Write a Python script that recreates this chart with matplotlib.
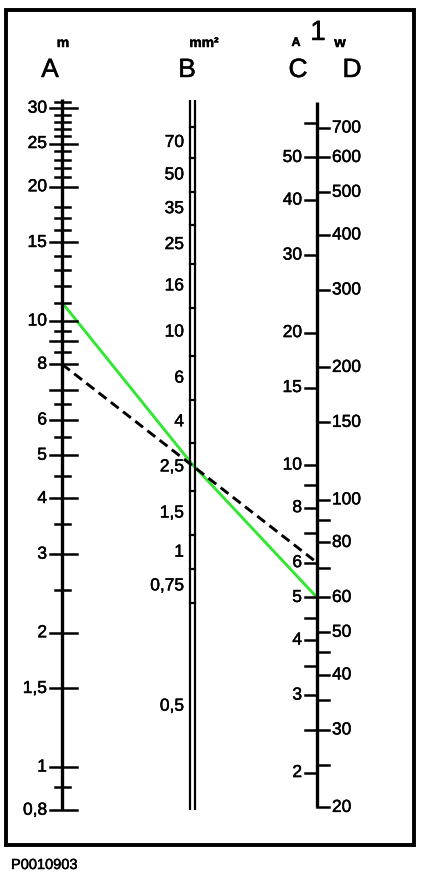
import numpy as np
import matplotlib
matplotlib.use("Agg")
import matplotlib.pyplot as plt
import matplotlib.patheffects as pe
from matplotlib.patches import Rectangle

plt.rcParams['font.family'] = ['Liberation Sans', 'DejaVu Sans']

# ---------------- data ----------------
# Scale A : cable length (m)
A_labeled = [30, 25, 20, 15, 10, 8, 6, 5, 4, 3, 2, 1.5, 1, 0.8]
A_labels = ["30", "25", "20", "15", "10", "8", "6", "5", "4", "3", "2", "1,5", "1", "0,8"]
A_long_unlabeled = [9, 7]
A_minor = [31, 29, 28, 27, 26, 24, 23, 22, 21, 18, 17, 16, 14, 13, 12, 11,
           9.5, 8.5, 6.5, 5.5, 4.5, 3.5, 2.5, 0.9]
A_range = [0.8, 31.5]

# Scale B : cross-section (mm²)
B_sizes = [0.5, 0.75, 1, 1.5, 2.5, 4, 6, 10, 16, 25, 35, 50, 70]
B_labels = ["0,5", "0,75", "1", "1,5", "2,5", "4", "6", "10", "16", "25", "35", "50", "70"]
B_next_size = 95
B_range = [0.073, 107]

# Scale C : current (A)
C_labeled = [50, 40, 30, 20, 15, 10, 8, 6, 5, 4, 3, 2]
C_labels = ["50", "40", "30", "20", "15", "10", "8", "6", "5", "4", "3", "2"]
C_minor = [60, 9, 7, 4.5, 3.5, 2.5]
C_top = 66.8

# Scale D : power (W) at 12 V
VOLTAGE = 12
D_labeled = [700, 600, 500, 400, 300, 200, 150, 100, 80, 60, 50, 40, 30, 20]
D_labels = ["700", "600", "500", "400", "300", "200", "150", "100", "80", "60", "50", "40", "30", "20"]
D_minor = [90, 70, 45, 35, 25]

# Example readings
green_A, green_B, green_C = 11, 2.55, 5
dashed_A, dashed_C = 8, 6

# ---------------- layout ----------------
W, H = 432, 880
fig = plt.figure(figsize=(W / 100, H / 100), dpi=100)
fig.patch.set_facecolor("white")

base = fig.add_axes([0, 0, 1, 1])
base.set_xlim(0, W)
base.set_ylim(H, 0)
base.axis("off")


def scale_axes(y_at_one, px_per_dec):
    ax = fig.add_axes([0, 0, 1, 1])
    ax.set_xlim(0, W)
    ax.set_yscale("log")
    ax.set_ylim(10 ** ((y_at_one - H) / px_per_dec), 10 ** (y_at_one / px_per_dec))
    ax.axis("off")
    ax.patch.set_alpha(0)
    return ax


C_y1, C_ppd = 905, 440
axA = scale_axes(767, 446)
axB = scale_axes(555, 224)
axC = scale_axes(C_y1, C_ppd)
axD = scale_axes(C_y1 + C_ppd * np.log10(VOLTAGE), C_ppd)

K = "black"
FS = 12.5
TLW = 1.8
heavy = [pe.withStroke(linewidth=0.35, foreground="black")]


def txt(ax, x, y, s, **kw):
    t = ax.text(x, y, s, **kw)
    t.set_path_effects(heavy)
    return t


# frame
base.add_patch(Rectangle((5.5, 10), 408, 835, fill=False, lw=2.8, edgecolor=K))
txt(base, 11, 865, "P0010903", fontsize=10.5, ha="left", va="center")

# headers
txt(base, 63, 43, "m", fontsize=10, fontweight="bold", ha="center", va="center")
txt(base, 50, 70, "A", fontsize=19, ha="center", va="center")
txt(base, 204, 43, "mm²", fontsize=10, fontweight="bold", ha="center", va="center")
txt(base, 187, 70, "B", fontsize=19, ha="center", va="center")
txt(base, 296, 43, "A", fontsize=9, fontweight="bold", ha="center", va="center")
txt(base, 318, 33, "1", fontsize=20, ha="center", va="center")
txt(base, 340, 43, "w", fontsize=10.5, fontweight="bold", ha="center", va="center")
txt(base, 298, 70, "C", fontsize=19, ha="center", va="center")
txt(base, 352, 70, "D", fontsize=19, ha="center", va="center")

# ---- scale A ----
xA = 62
axA.plot([xA, xA], A_range, color=K, lw=2.4, solid_capstyle="butt")
for v, lab in zip(A_labeled, A_labels):
    axA.plot([xA - 12, xA + 15], [v, v], color=K, lw=TLW)
    txt(axA, xA - 15, v, lab, ha="right", va="center", fontsize=FS)
for v in A_long_unlabeled:
    axA.plot([xA - 12, xA + 15], [v, v], color=K, lw=TLW)
for v in A_minor:
    axA.plot([xA - 7, xA + 8], [v, v], color=K, lw=TLW)

# ---- scale B ----
xB1, xB2 = 189.5, 194.5
for xb in (xB1, xB2):
    axB.plot([xb, xb], B_range, color=K, lw=1.6, solid_capstyle="butt")
all_sizes = B_sizes + [B_next_size]
rungs = [np.sqrt(a * b) for a, b in zip(all_sizes[:-1], all_sizes[1:])]
for r in rungs:
    axB.plot([xB1, xB2], [r, r], color=K, lw=1.6)
bounds = [B_range[0]] + rungs
for i, lab in enumerate(B_labels):
    yv = np.sqrt(bounds[i] * bounds[i + 1])
    txt(axB, 184, yv, lab, ha="right", va="center", fontsize=FS)

# ---- scales C / D ----
xC = 317
axC.plot([xC, xC], [D_labeled[-1] / VOLTAGE, C_top], color=K, lw=2.4, solid_capstyle="butt")
for v, lab in zip(C_labeled, C_labels):
    axC.plot([xC - 12, xC], [v, v], color=K, lw=TLW)
    txt(axC, xC - 15, v, lab, ha="right", va="center", fontsize=FS)
for v in C_minor:
    axC.plot([xC - 12, xC], [v, v], color=K, lw=TLW)
for v, lab in zip(D_labeled, D_labels):
    axD.plot([xC, xC + 12], [v, v], color=K, lw=TLW)
    txt(axD, xC + 15, v, lab, ha="left", va="center", fontsize=FS)
for v in D_minor:
    axD.plot([xC, xC + 12], [v, v], color=K, lw=TLW)


# ---- example lines ----
def px(ax, x, v):
    return base.transData.inverted().transform(ax.transData.transform((x, v)))


g = np.array([px(axA, xA, green_A), px(axB, (xB1 + xB2) / 2, green_B), px(axC, xC, green_C)])
base.plot(g[:, 0], g[:, 1], color="#33e633", lw=2.1, solid_capstyle="round",
          solid_joinstyle="round", zorder=5)
d = np.array([px(axA, xA, dashed_A), px(axC, xC, dashed_C)])
base.plot(d[:, 0], d[:, 1], color=K, lw=2.1, linestyle=(0, (3.4, 1.9)), zorder=6)

fig.savefig("out.png", dpi=100, facecolor="white")
